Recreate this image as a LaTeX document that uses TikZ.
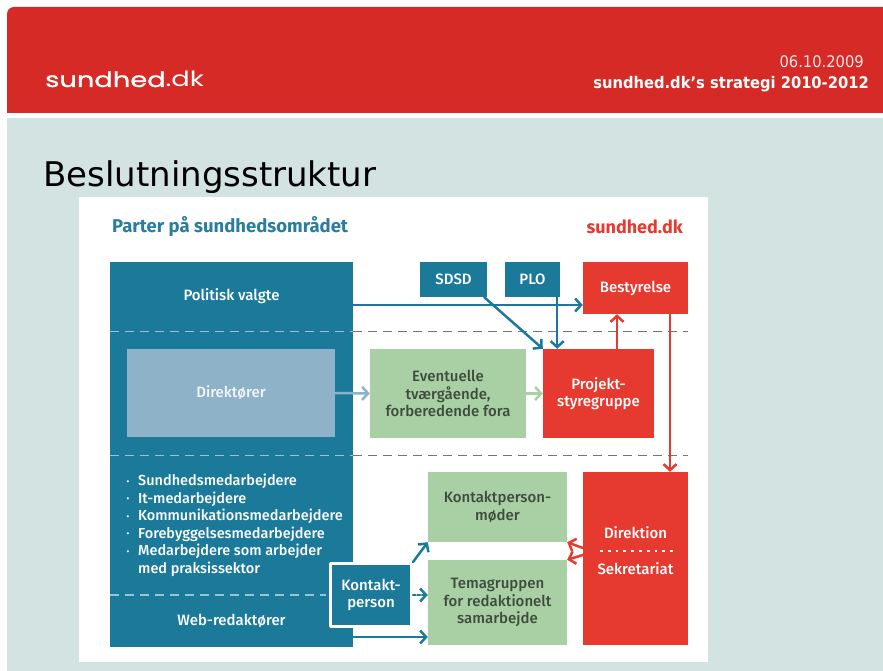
\documentclass[tikz,border=0pt]{standalone}
\usepackage{fontspec}
\setmainfont{Fira Sans}[UprightFont={* Medium},BoldFont={* Bold}]
\newfontfamily\titelfont{DejaVu Sans}
\newfontfamily\hovedfont{DejaVu Sans}[FakeStretch=0.92]
\newfontfamily\logofont{Poppins}[FakeStretch=1.3]
\newfontfamily\logofed{Poppins}[FakeStretch=1.3,FakeBold=1.2]
\usetikzlibrary{arrows,arrows.meta}

\definecolor{hovedrod}{RGB}{213,42,38}
\definecolor{baggrund}{RGB}{210,227,225}
\definecolor{blaa}{RGB}{27,122,154}
\definecolor{overskrift}{RGB}{40,125,160}
\definecolor{lysblaa}{RGB}{142,178,200}
\definecolor{groen}{RGB}{168,208,164}
\definecolor{rod}{RGB}{230,58,48}
\definecolor{streg}{RGB}{115,115,115}
\definecolor{lysstreg}{RGB}{150,195,215}
\definecolor{groentekst}{RGB}{62,76,62}

\newcommand{\pkt}{\makebox[14pt][l]{\hspace{2.5pt}\raisebox{1.5pt}{\fontsize{8}{8}\selectfont\textbullet}}}

\begin{document}
\begin{tikzpicture}[line cap=round,line join=round,>={Straight Barb[length=6pt,width=13pt]},x=1pt,y=-1pt,
    boks/.style={inner sep=0pt,align=center,font=\fontsize{15}{17.5}\selectfont},
    blaaboks/.style={boks,fill=blaa,text=white},
    roedboks/.style={boks,fill=rod,text=white},
    groenboks/.style={boks,fill=groen,text=groentekst},
    pil/.style={->,line width=2.5pt},
    skille/.style={line width=1.8pt,line cap=butt,dash pattern=on 9pt off 6pt}]
    % baggrund og hoved
    \fill[white] (0,0) rectangle (883,671);
    \useasboundingbox (0,0) rectangle (883,671);
    \fill[baggrund] (7,118) rectangle (883,671);
    \fill[hovedrod] (7,113) [rounded corners=7pt] -- (7,7) [sharp corners] -- (883,7) -- (883,113) -- cycle;
    \node[anchor=base west,text=white,inner sep=0pt,font=\fontsize{21}{24}\selectfont] (logo) at (45,87) {\logofed sundhed\logofont.dk};
    \node[anchor=base east,text=white!88!hovedrod,inner sep=0pt,font=\hovedfont\fontsize{16}{18}\selectfont] (dato) at (864,68) {06.10.2009};
    \node[anchor=base east,text=white,inner sep=0pt,font=\hovedfont\bfseries\fontsize{16}{18}\selectfont] (strategi) at (869,89) {sundhed.dk’s strategi 2010-2012};
    \node[anchor=base west,inner sep=0pt,font=\titelfont\fontsize{34}{40}\selectfont] (titel) at (43,186) {Beslutningsstruktur};
    % panel
    \fill[white] (79,197) rectangle (708,662);
    \node[anchor=west,text=overskrift,inner sep=0pt,font=\bfseries\fontsize{18.5}{21}\selectfont] (parterhd) at (112,227) {Parter på sundhedsområdet};
    \node[anchor=east,text=rod,inner sep=0pt,font=\bfseries\fontsize{18}{21}\selectfont] (sundhd) at (683,227) {sundhed.dk};
    \node[blaaboks,minimum width=243pt,minimum height=385pt] (parter) at (231.5,454.5) {};
    % skillelinjer
    \foreach \y in {331.5,455.5}{
        \draw[skille,lysstreg] (110,\y) -- (353,\y);
        \draw[skille,streg] (353,\y) -- (688,\y);
    }
    \draw[skille,lysstreg] (110,595) -- (326,595);
    % parter
    \node[boks,text=white,minimum width=243pt,minimum height=69pt] (pol) at (231.5,296.5) {Politisk valgte};
    \node[boks,fill=lysblaa,text=white!88!lysblaa,minimum width=208pt,minimum height=88pt] (dir) at (231,393) {Direktører};
    \node[anchor=north west,text=white,align=left,inner sep=0pt,font=\fontsize{14.5}{17.5}\selectfont] (staff) at (124,474)
        {\pkt Sundhedsmedarbejdere\\ \pkt It-medarbejdere\\ \pkt Kommunikationsmedarbejdere\\ \pkt Forebyggelsesmedarbejdere\\ \pkt Medarbejdere som arbejder\\ \hspace{14pt}med praksissektor};
    \node[boks,text=white,minimum width=243pt,minimum height=52pt] (web) at (231.5,621) {Web-redaktører};
    \node[blaaboks,draw=white,line width=3pt,minimum width=81pt,minimum height=63pt] (kp) at (371,595) {Kontakt-\\person};
    \node[blaaboks,minimum width=67pt,minimum height=35pt] (sdsd) at (453.5,279.5) {SDSD};
    \node[blaaboks,minimum width=55pt,minimum height=35pt] (plo) at (532.5,279.5) {PLO};
    % fora
    \node[groenboks,minimum width=156pt,minimum height=89pt] (event) at (448,393.5) {Eventuelle\\tværgående,\\forberedende fora};
    \node[groenboks,minimum width=139pt,minimum height=70pt] (kpm) at (497.5,507) {Kontaktperson-\\møder};
    \node[groenboks,minimum width=139pt,minimum height=85pt] (tema) at (497.5,602.5) {Temagruppen\\for redaktionelt\\samarbejde};
    % sundhed.dk
    \node[roedboks,minimum width=105pt,minimum height=52pt] (bestyr) at (635.5,288) {Bestyrelse};
    \node[roedboks,minimum width=111pt,minimum height=89pt] (projekt) at (598.5,393.5) {Projekt-\\styregruppe};
    \node[roedboks,minimum width=105pt,minimum height=173pt] (direk) at (635.5,558.5) {};
    \node[boks,text=white] (direktion) at (635.5,533) {Direktion};
    \node[boks,text=white] (sekr) at (635.5,569) {Sekretariat};
    \draw[white,line width=2.8pt,line cap=butt,dash pattern=on 2.8pt off 5pt] (600,551) -- (674,551);
    % pile
    \coordinate (polpil) at ([yshift=-17pt]bestyr.west);
    \draw[pil,blaa] (pol.east |- polpil) -- (polpil);
    \draw[pil,blaa] ([xshift=-3pt]sdsd.south east) -- (projekt.north west);
    \coordinate (plofod) at ([xshift=-3pt]plo.south east);
    \draw[pil,blaa] (plofod) -- (plofod |- projekt.north);
    \draw[pil,lysblaa] (dir.east) -- (event.west);
    \draw[pil,groen] (event.east) -- (projekt.west);
    \coordinate (projop) at ([xshift=18.5pt]projekt.north);
    \draw[pil,rod] (projop) -- (projop |- bestyr.south);
    \coordinate (bestned) at ([xshift=34.5pt]bestyr.south);
    \draw[pil,rod] (bestned) -- (bestned |- direk.north);
    \draw[pil,rod] ([yshift=10.5pt]direk.west) -- (kpm.south east);
    \draw[pil,rod] ([yshift=3.5pt]direk.west) -- (tema.north east);
    \draw[pil,blaa] (kp.north east) -- (kpm.south west);
    \draw[pil,blaa,dotted] (kp.east) -- (kp.east -| tema.west);
    \coordinate (webpil) at ([yshift=-16pt]web.east);
    \draw[pil,blaa] (webpil) -- (webpil -| tema.west);
\end{tikzpicture}
\end{document}
